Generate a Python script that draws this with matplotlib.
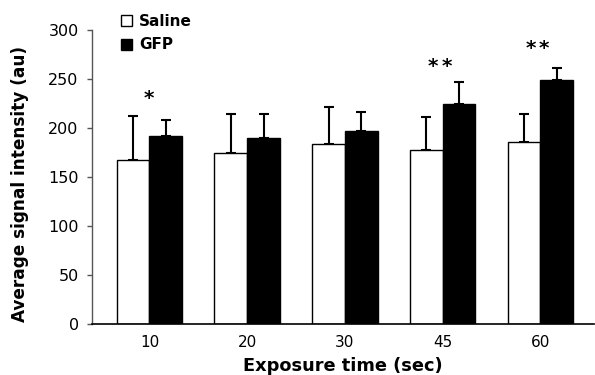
import matplotlib
matplotlib.use("Agg")
import matplotlib.pyplot as plt
import numpy as np

categories = ["10", "20", "30", "45", "60"]
saline = [167, 174.5, 184, 178, 186]
saline_err = [45, 40, 37, 33, 28]
gfp = [192, 190, 197, 224, 249]
gfp_err = [16, 24, 19, 23, 12]
stars = ["*", "", "", "**", "**"]
star_y = [230, 0, 0, 263, 281]

plt.rcParams['font.family'] = ['DejaVu Sans']

fig = plt.figure(figsize=(5.95, 3.75), dpi=100)
ax = fig.add_axes([0.1546, 0.136, 0.8434, 0.784])

x = np.arange(len(categories))
w = 0.335
ax.bar(x - w/2, saline, w, color="white", edgecolor="black", linewidth=1.0, label="Saline", zorder=2)
ax.bar(x + w/2, gfp, w, color="black", edgecolor="black", linewidth=1.0, label="GFP", zorder=2)
ax.errorbar(x - w/2, saline, yerr=[np.zeros(len(saline)), saline_err], fmt="none",
            ecolor="black", elinewidth=1.5, capsize=3.8, capthick=1.5, zorder=1)
ax.errorbar(x + w/2, gfp, yerr=[np.zeros(len(gfp)), gfp_err], fmt="none",
            ecolor="black", elinewidth=1.5, capsize=3.8, capthick=1.5, zorder=1)

for i, s in enumerate(stars):
    if s:
        if s == "**":
            for dx in (-0.07, 0.07):
                ax.text(x[i] - 0.03 + dx, star_y[i], "*", ha="center", va="center",
                        fontsize=14.5, fontweight="bold")
        else:
            ax.text(x[i] - 0.01, star_y[i], "*", ha="center", va="center",
                    fontsize=14.5, fontweight="bold")

ax.set_xlim(-0.588, 4.547)
ax.set_ylim(0, 300)
ax.set_yticks(range(0, 301, 50))
ax.set_xticks(x)
ax.set_xticklabels(categories)
ax.tick_params(axis="x", length=0, pad=8, labelsize=11)
ax.tick_params(axis="y", length=3.6, width=1, direction="out", pad=6, labelsize=11.5, color="#555555")
for sp in ["top", "right"]:
    ax.spines[sp].set_visible(False)
ax.spines["left"].set_color("#555555")
ax.spines["left"].set_linewidth(1.0)
ax.spines["bottom"].set_color("black")
ax.spines["bottom"].set_linewidth(1.2)

ax.set_xlabel("Exposure time (sec)", fontsize=12.8, fontweight="bold", labelpad=5)
ax.set_ylabel("Average signal intensity (au)", fontsize=12.2, fontweight="bold", va="center")
ax.yaxis.set_label_coords(-0.143, 0.478)

leg = ax.legend(loc="upper left", bbox_to_anchor=(0.045, 1.075), frameon=False,
                prop={"weight": "bold", "size": 11}, handlelength=0.75, handleheight=0.75,
                handletextpad=0.45, labelspacing=0.55, borderaxespad=0)

fig.savefig("out.png", dpi=100)
